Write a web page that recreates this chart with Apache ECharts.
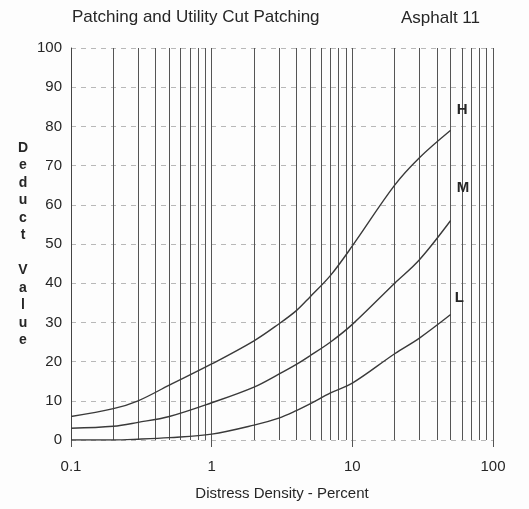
<!DOCTYPE html>
<html>
<head>
<meta charset="utf-8">
<script src="https://cdn.jsdelivr.net/npm/echarts@6/dist/echarts.min.js"></script>
<style>
  html, body { margin: 0; padding: 0; background: #fdfdfd; }
  #chart { width: 529px; height: 509px; }
</style>
</head>
<body>
<div id="chart"></div>
<script>
// distress density (%) where the curves are read
const density = [0.1, 0.2, 0.3, 0.5, 1, 2, 3, 4, 5, 7, 10, 20, 30, 50]
// deduct values per severity
const highVals = [6, 8, 10, 14, 19.4, 25.3, 29.6, 33, 36.5, 42, 49.5, 65, 72, 79]
const medVals = [3, 3.5, 4.5, 6, 9.5, 13.5, 16.8, 19.3, 21.5, 25, 29.5, 40, 46, 56]
const lowVals = [0, 0, 0.2, 0.6, 1.5, 3.8, 5.6, 7.5, 9.2, 12, 14.5, 22, 26, 32]
// vertical log grid lines
const gridVals = [0.2, 0.3, 0.4, 0.5, 0.6, 0.7, 0.8, 0.9, 1,
  2, 3, 4, 5, 6, 7, 8, 9, 10,
  20, 30, 40, 50, 60, 70, 80, 90, 100]
const xTickLabels = { 0.1: '0.1', 1: '1', 10: '10', 100: '100' }

const FONT = "'Liberation Sans', Arial, sans-serif"
const INK = '#3a3a3a'
const TXT = '#262626'

function pairs (ys) {
  return density.map((d, i) => [d, ys[i]])
}

function curve (name, ys, off) {
  return {
    name: name,
    type: 'line',
    data: pairs(ys),
    smooth: 0.35,
    symbol: 'none',
    lineStyle: { color: INK, width: 1.4 },
    endLabel: {
      show: true,
      formatter: '{a}',
      offset: off,
      color: TXT,
      fontSize: 15,
      fontWeight: 'bold',
      fontFamily: FONT
    },
    z: 5
  }
}

let chart = echarts.init(document.getElementById('chart'))
let option = {
  backgroundColor: '#fdfdfd',
  animation: false,
  title: [
    {
      text: 'Patching and Utility Cut Patching',
      left: 67,
      top: 4,
      textStyle: { fontSize: 17, fontWeight: 'normal', color: TXT, fontFamily: FONT }
    },
    {
      text: 'Asphalt 11',
      right: 44,
      top: 5,
      textStyle: { fontSize: 17, fontWeight: 'normal', color: TXT, fontFamily: FONT }
    }
  ],
  grid: { left: 71, right: 36, top: 48, bottom: 69 },
  xAxis: {
    type: 'log',
    logBase: 10,
    min: 0.1,
    max: 100,
    name: 'Distress Density - Percent',
    nameLocation: 'middle',
    nameGap: 46,
    nameTextStyle: { fontSize: 15, fontWeight: 'normal', color: TXT, fontFamily: FONT },
    axisLine: { show: false },
    axisTick: { show: true, length: 7, lineStyle: { color: '#555' } },
    splitLine: { show: false },
    axisLabel: {
      margin: 19,
      fontSize: 15,
      color: TXT,
      fontFamily: FONT,
      formatter: v => xTickLabels[v] || String(v)
    }
  },
  yAxis: {
    type: 'value',
    min: 0,
    max: 100,
    interval: 10,
    name: 'D\ne\nd\nu\nc\nt\n\nV\na\nl\nu\ne',
    nameLocation: 'middle',
    nameRotate: 0,
    nameGap: 48,
    nameTextStyle: { fontSize: 14, fontWeight: 'bold', color: TXT, lineHeight: 17.5, fontFamily: FONT, align: 'center' },
    axisLine: { show: true, lineStyle: { color: '#444', width: 1 } },
    axisTick: { show: false },
    axisLabel: { margin: 9, fontSize: 15, color: TXT, fontFamily: FONT },
    splitLine: { show: true, lineStyle: { color: '#b8b8b8', type: [5, 5], width: 1 } }
  },
  series: [
    {
      name: 'grid',
      type: 'line',
      data: [],
      silent: true,
      markLine: {
        silent: true,
        symbol: 'none',
        label: { show: false },
        lineStyle: { color: '#555', type: 'solid', width: 1 },
        data: gridVals.map(v => [{ coord: [v, 0] }, { coord: [v, 100] }])
      }
    },
    curve('H', highVals, [-2, -20]),
    curve('M', medVals, [-2, -33]),
    curve('L', lowVals, [-4, -17])
  ]
}
chart.setOption(option)
</script>
</body>
</html>
